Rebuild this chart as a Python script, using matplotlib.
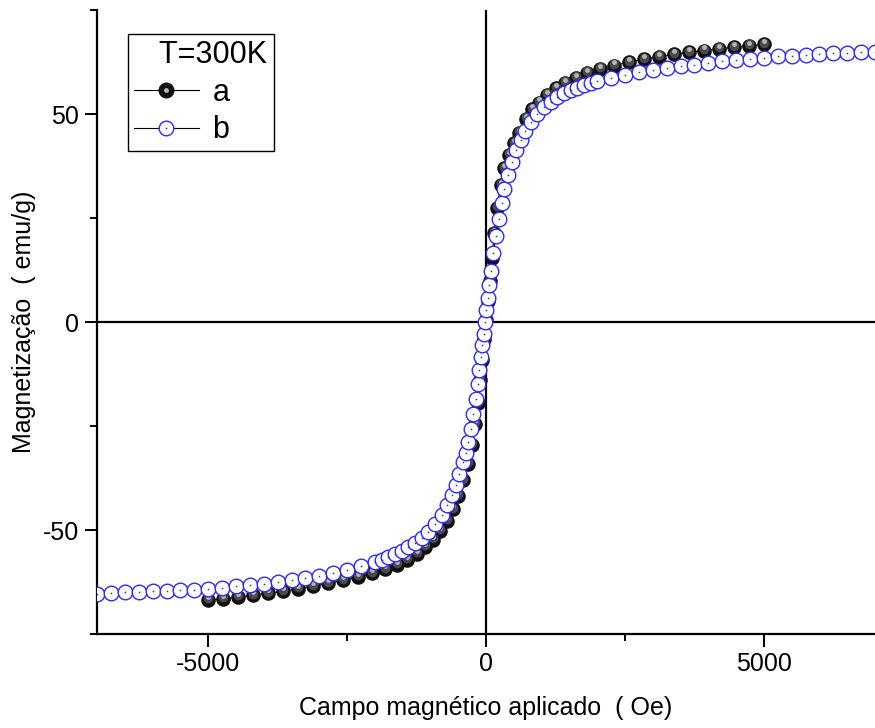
import matplotlib
matplotlib.use("Agg")
import matplotlib.pyplot as plt
from matplotlib.lines import Line2D
from matplotlib.ticker import MultipleLocator
from matplotlib.transforms import offset_copy

plt.rcParams['font.family'] = ['Liberation Sans', 'DejaVu Sans']
plt.rcParams['axes.unicode_minus'] = False

# sample a (black spheres)
field_a = [-5000, -4730, -4460, -4190, -3920, -3650, -3380, -3110, -2840, -2570,
           -2300, -2050, -1820, -1610, -1420, -1250, -1100, -960, -830, -710,
           -600, -500, -410, -330, -260, -200, -150, -105, -65, -30,
           0, 30, 65, 105, 150, 200, 260, 330, 410, 500,
           600, 710, 830, 960, 1100, 1250, 1420, 1610, 1820, 2050,
           2300, 2570, 2840, 3110, 3380, 3650, 3920, 4190, 4460, 4730, 5000]
mag_a = [-66.8, -66.5, -66.1, -65.7, -65.2, -64.7, -64.1, -63.5, -62.8, -62.1,
         -61.3, -60.4, -59.4, -58.3, -57.1, -55.7, -54.1, -52.3, -50.2, -47.8,
         -45.0, -41.8, -38.0, -34.0, -29.5, -24.5, -19.5, -14.0, -9.0, -4.0,
         0.5, 5.0, 10.0, 15.5, 21.5, 27.5, 33.0, 37.0, 40.2, 43.0,
         45.5, 48.8, 51.2, 52.8, 54.6, 56.2, 57.6, 58.8, 59.9, 60.9,
         61.7, 62.5, 63.2, 63.8, 64.4, 64.9, 65.3, 65.7, 66.1, 66.4, 66.8]

# sample b (open blue circles)
field_b = [-7000, -6750, -6500, -6250, -6000, -5750, -5500, -5250, -5000, -4750,
           -4500, -4250, -4000, -3750, -3500, -3250, -3000, -2750, -2500, -2250,
           -2000, -1880, -1760, -1640, -1520, -1400, -1280, -1160, -1040, -920,
           -800, -700, -620, -550, -480, -420, -370, -320, -270, -230,
           -190, -150, -120, -95, -70, -45, -20,
           5, 30, 60, 90, 130, 180, 230, 280, 330, 390,
           460, 540, 620, 700, 800, 910, 1040, 1160, 1280, 1400,
           1520, 1640, 1760, 1880, 2000, 2250, 2500, 2750, 3000, 3250,
           3500, 3750, 4000, 4250, 4500, 4750, 5000, 5250, 5500, 5750,
           6000, 6250, 6500, 6750, 7000]
mag_b = [-65.4, -65.2, -65.0, -64.9, -64.7, -64.6, -64.4, -64.3, -64.1, -63.8,
         -63.5, -63.2, -62.9, -62.5, -62.1, -61.6, -61.0, -60.4, -59.7, -58.7,
         -57.7, -57.1, -56.5, -55.8, -55.0, -54.1, -53.0, -51.8, -50.4, -48.6,
         -46.4, -44.0, -41.6, -39.2, -36.4, -33.7, -31.5, -28.8, -25.6, -22.0,
         -18.5, -14.8, -11.5, -8.5, -5.6, -2.8, 0.0,
         2.8, 5.7, 9.0, 12.4, 16.6, 20.8, 24.8, 28.6, 32.0, 35.3,
         38.5, 41.5, 43.9, 46.0, 48.1, 50.0, 51.7, 53.0, 54.1, 55.0,
         55.7, 56.4, 57.0, 57.5, 58.0, 58.8, 59.5, 60.1, 60.6, 61.1,
         61.5, 61.9, 62.3, 62.7, 63.0, 63.3, 63.6, 63.9, 64.1, 64.3,
         64.5, 64.6, 64.8, 64.9, 65.0]

blue = '#2a2aff'

fig = plt.figure(figsize=(8.75, 7.28), dpi=100)
ax = fig.add_axes([0.111, 0.129, 0.889, 0.857])

# sample a: dark spheres with a soft highlight
ax.plot(field_a, mag_a, '-', color='k', lw=0.8, zorder=2)
ax.plot(field_a, mag_a, 'o', color='#111111', ms=10.5, mew=0, zorder=3)
tr1 = offset_copy(ax.transData, fig=fig, x=0, y=1.2, units='points')
ax.plot(field_a, mag_a, 'o', color='#4a4a4a', ms=7, mew=0, zorder=3,
        transform=tr1)
tr2 = offset_copy(ax.transData, fig=fig, x=0, y=2.2, units='points')
ax.plot(field_a, mag_a, 'o', color='#b5b5b5', ms=3.5, mew=0, zorder=3,
        transform=tr2)

# sample b: open circles with a centre dot
ax.plot(field_b, mag_b, '-', color='k', lw=0.8, zorder=4)
ax.plot(field_b, mag_b, 'o', mfc='white', mec=blue, mew=1.0, ms=10.5,
        zorder=5)
ax.plot(field_b, mag_b, 'o', color=blue, ms=1.2, mew=0, zorder=6)

ax.axhline(0, color='k', lw=1.6, zorder=1)
ax.axvline(0, color='k', lw=1.6, zorder=1)

ax.set_xlim(-7000, 7000)
ax.set_ylim(-75, 75)
ax.xaxis.set_major_locator(MultipleLocator(5000))
ax.xaxis.set_minor_locator(MultipleLocator(2500))
ax.yaxis.set_major_locator(MultipleLocator(50))
ax.yaxis.set_minor_locator(MultipleLocator(25))
ax.spines['top'].set_visible(False)
ax.spines['right'].set_visible(False)
for s in ['left', 'bottom']:
    ax.spines[s].set_linewidth(1.6)
ax.tick_params(which='major', direction='out', length=9, width=1.4,
               labelsize=18, pad=4)
ax.tick_params(which='minor', direction='out', length=5, width=1.4)

ax.set_xlabel('Campo magnético aplicado  ( Oe)', fontsize=18, labelpad=14)
ax.set_ylabel('Magnetização  ( emu/g)', fontsize=18, labelpad=5)

h_a = (Line2D([], [], color='k', lw=0.8, marker='o', ms=10.5, mfc='#111111',
              mec='#111111'),
       Line2D([], [], ls='none', marker='o', ms=3.5, mfc='#b5b5b5', mew=0))
h_b = (Line2D([], [], color='k', lw=0.8),
       Line2D([], [], ls='none', marker='o', ms=10.5, mfc='white', mec=blue,
              mew=1.0),
       Line2D([], [], ls='none', marker='o', ms=1.2, color=blue, mew=0))
leg = ax.legend([h_a, h_b], ['a', 'b'], title='   T=300K', loc='upper left',
                bbox_to_anchor=(0.04, 0.962), fontsize=22, title_fontsize=22,
                alignment='left', frameon=True, fancybox=False, framealpha=1,
                edgecolor='k', borderpad=0.2, handlelength=2.1,
                handletextpad=0.45, labelspacing=0.25, borderaxespad=0)
leg.get_frame().set_linewidth(1.0)

fig.savefig('out.png', dpi=100)
